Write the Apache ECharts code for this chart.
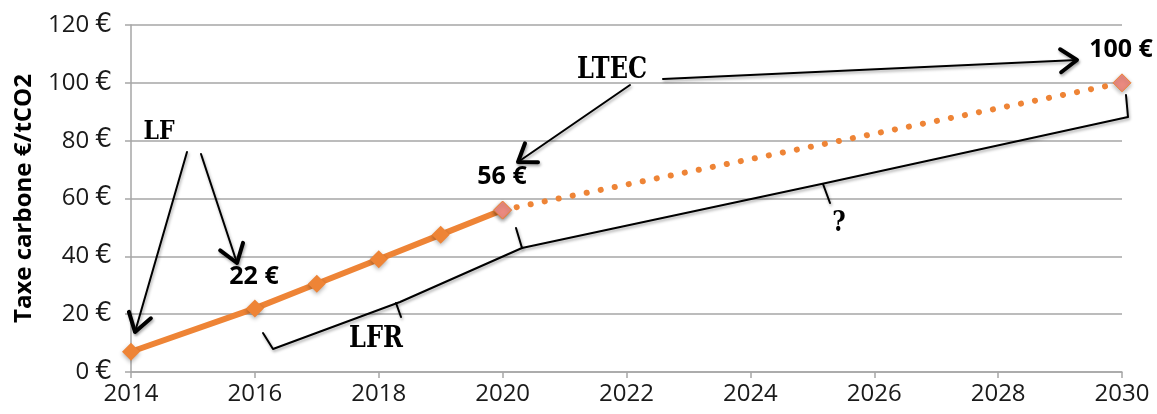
<!DOCTYPE html>
<html>
<head>
<meta charset="utf-8">
<script src="https://cdn.jsdelivr.net/npm/echarts@6/dist/echarts.min.js"></script>
<style>
html,body{margin:0;padding:0;background:#fff;}
#chart{width:1157px;height:414px;}
</style>
</head>
<body>
<div id="chart"></div>
<script>
// Data
const lawYears = [2014, 2016, 2017, 2018, 2019, 2020];
const lawValues = [7, 22, 30.5, 39, 47.5, 56];
const targetYears = [2020, 2030];
const targetValues = [56, 100];
const yAxisTitle = 'Taxe carbone €/tCO2';

const ORANGE = '#EE8436';
const PINK = '#EA8A80';
const SERIF = 'DejaVu Serif';
const SANS = 'Open Sans';

const chart = echarts.init(document.getElementById('chart'));

const lineShadow = { shadowColor: 'rgba(0,0,0,0.35)', shadowBlur: 3, shadowOffsetX: 1, shadowOffsetY: 2 };

function line(points, w) {
  return { type: 'polyline', silent: true, z: 50,
    shape: { points: points },
    style: Object.assign({ stroke: '#000', lineWidth: w, fill: null, lineCap: 'round', lineJoin: 'round' }, lineShadow) };
}
function arrow(x1, y1, x2, y2, len, ang) {
  const a = Math.atan2(y1 - y2, x1 - x2);
  const r = ang * Math.PI / 180;
  const p1 = [x2 + len * Math.cos(a + r), y2 + len * Math.sin(a + r)];
  const p2 = [x2 + len * Math.cos(a - r), y2 + len * Math.sin(a - r)];
  return [line([[x1, y1], [x2, y2]], 2), line([p1, [x2, y2], p2], 4)];
}
function text(t, x, y, font, size, sy) {
  return { type: 'text', silent: true, z: 60, x: x, y: y, scaleY: sy || 1, originX: 0, originY: 0,
    style: { text: t, fill: '#000', fontFamily: font, fontSize: size, fontWeight: 'bold', align: 'center', verticalAlign: 'middle' } };
}

const graphics = [].concat(
  arrow(187, 152, 135, 332, 21, 33),
  arrow(201, 154, 237, 263, 21, 35),
  arrow(630, 85, 518, 162, 20, 35),
  arrow(663, 79, 1077, 60, 20, 35),
  [
    line([[263, 333], [273, 349], [400, 302], [522, 248]], 2),
    line([[396, 303], [401, 317]], 2),
    line([[516, 228], [522, 248], [826, 183], [1128, 117], [1126, 95]], 2),
    line([[823, 184], [830, 203]], 2),
    text('LF', 159, 132, SERIF, 22, 1.22),
    text('LTEC', 612, 70, SERIF, 24, 1.27),
    text('LFR', 376, 339, SERIF, 24, 1.27),
    text('?', 839, 224, SERIF, 23, 1.25),
    text('22 €', 254, 277, SANS, 25),
    text('56 €', 502, 177, SANS, 25),
    text('100 €', 1121, 50, SANS, 25)
  ]
);

chart.setOption({
  animation: false,
  grid: { left: 131, right: 35, top: 25, bottom: 42, containLabel: false },
  xAxis: {
    type: 'value', min: 2014, max: 2030, interval: 2,
    axisLine: { show: true, lineStyle: { color: '#A6A6A6', width: 1.5 } },
    axisTick: { show: true, length: 6, lineStyle: { color: '#A6A6A6', width: 1.5 } },
    splitLine: { show: false },
    axisLabel: { color: '#1a1a1a', fontFamily: SANS, fontSize: 24, margin: 10, formatter: v => String(v) }
  },
  yAxis: {
    type: 'value', min: 0, max: 120, interval: 20,
    name: yAxisTitle, nameLocation: 'middle', nameGap: 95, nameRotate: 90,
    nameTextStyle: { color: '#000', fontFamily: SANS, fontSize: 24, fontWeight: 'bold' },
    axisLine: { show: true, lineStyle: { color: '#A6A6A6', width: 1.5 } },
    axisTick: { show: true, length: 6, lineStyle: { color: '#A6A6A6', width: 1.5 } },
    splitLine: { show: true, lineStyle: { color: '#A6A6A6', width: 1.5 } },
    axisLabel: {
      color: '#1a1a1a', fontFamily: SANS, fontSize: 24, margin: 19,
      formatter: v => '{n|' + v + '} {e|€}',
      rich: {
        n: { fontFamily: SANS, fontSize: 24, color: '#1a1a1a' },
        e: { fontFamily: 'DejaVu Sans', fontSize: 26, color: '#1a1a1a' }
      }
    }
  },
  series: [
    {
      type: 'line', z: 10,
      data: lawYears.map((y, i) => [y, lawValues[i]]),
      symbol: 'diamond', symbolSize: 18,
      lineStyle: { color: ORANGE, width: 6 },
      itemStyle: { color: ORANGE, shadowColor: 'rgba(0,0,0,0.3)', shadowBlur: 4, shadowOffsetY: 2 }
    },
    {
      type: 'line', z: 11,
      data: targetYears.map((y, i) => [y, targetValues[i]]),
      symbol: 'diamond', symbolSize: 18,
      lineStyle: { color: ORANGE, width: 6, type: [0.1, 14.2], cap: 'round' },
      itemStyle: { color: PINK, borderColor: ORANGE, borderWidth: 1, shadowColor: 'rgba(0,0,0,0.3)', shadowBlur: 4, shadowOffsetY: 2 }
    }
  ],
  graphic: graphics
});
</script>
</body>
</html>
